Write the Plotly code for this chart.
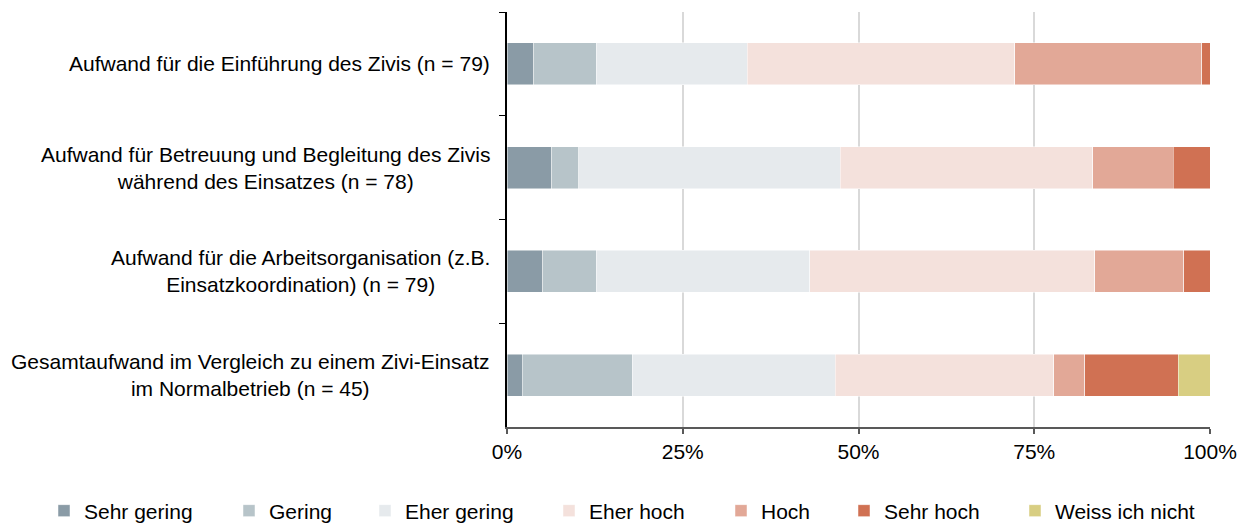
import plotly.graph_objects as go

categories = [
    "Aufwand für die Einführung des Zivis (n = 79)",
    "Aufwand für Betreuung und Begleitung des Zivis<br>während des Einsatzes (n = 78)",
    "Aufwand für die Arbeitsorganisation (z.B.<br>Einsatzkoordination) (n = 79)",
    "Gesamtaufwand im Vergleich zu einem Zivi-Einsatz<br>im Normalbetrieb (n = 45)",
]
series_names = ["Sehr gering", "Gering", "Eher gering", "Eher hoch", "Hoch", "Sehr hoch", "Weiss ich nicht"]
sehr_gering = [3.8, 6.4, 5.1, 2.2]
gering = [8.9, 3.8, 7.6, 15.6]
eher_gering = [21.5, 37.2, 30.4, 28.9]
eher_hoch = [38.0, 35.9, 40.5, 31.1]
hoch = [26.6, 11.5, 12.7, 4.4]
sehr_hoch = [1.2, 5.2, 3.7, 13.3]
weiss_nicht = [0, 0, 0, 4.5]
series_values = [sehr_gering, gering, eher_gering, eher_hoch, hoch, sehr_hoch, weiss_nicht]
colors = ["#8A9BA6", "#B7C4C9", "#E6EAED", "#F4E1DC", "#E2A897", "#D07153", "#D8CE82"]
tick_vals = [0, 25, 50, 75, 100]
tick_text = ["0%", "25%", "50%", "75%", "100%"]

# legend text start positions (px, page coords) in the reference
legend_text_x = [79, 264, 400, 584, 756, 879, 1050]

OFF = 8  # page body margin
W, H = 1250 - OFF, 523 - OFF
FONT = "Liberation Sans, Arial, sans-serif"
FS = 21

fig = go.Figure()
for i, (name, vals, col) in enumerate(zip(series_names, series_values, colors)):
    lg = "legend" if i == 0 else f"legend{i+1}"
    fig.add_trace(go.Bar(
        y=categories, x=vals, name=name, orientation="h",
        marker=dict(color=col, line=dict(color="rgba(255,255,255,0.6)", width=0.8)),
        width=0.405, legend=lg, hoverinfo="skip",
    ))

layout_legends = {}
for i, tx in enumerate(legend_text_x):
    key = "legend" if i == 0 else f"legend{i+1}"
    layout_legends[key] = dict(
        xref="container", yref="container",
        x=(tx - OFF - 35) / W, y=12 / H, xanchor="left", yanchor="middle",
        orientation="h", font=dict(size=FS, color="#000000", family=FONT),
        bgcolor="rgba(0,0,0,0)", borderwidth=0,
    )

annotations = []
for c in categories:
    annotations.append(dict(
        x=0, y=c, xref="paper", yref="y", text=c, showarrow=False,
        xanchor="right", yanchor="middle", align="center", xshift=-15,
        font=dict(size=FS, color="#000000", family=FONT),
    ))

fig.update_layout(
    width=W, height=H,
    margin=dict(l=507 - OFF, r=40, t=12 - OFF, b=96),
    barmode="stack",
    plot_bgcolor="white", paper_bgcolor="white",
    font=dict(family=FONT, size=FS, color="#000000"),
    xaxis=dict(
        range=[0, 100], tickvals=tick_vals, ticktext=tick_text,
        showgrid=True, gridcolor="#D9D9D9", gridwidth=2,
        showline=True, linecolor="#595959", linewidth=1.5,
        ticks="outside", ticklen=5, tickcolor="#595959", tickwidth=1.5,
        zeroline=False, tickfont=dict(size=FS, color="#000000"),
        fixedrange=True,
    ),
    yaxis=dict(
        autorange="reversed", showticklabels=False,
        showline=True, linecolor="#000000", linewidth=1.5,
        ticks="outside", ticklen=6, tickcolor="#000000", tickson="boundaries",
        showgrid=False, fixedrange=True,
    ),
    annotations=annotations,
    showlegend=True,
    **layout_legends,
)

fig.write_html("out.html")
